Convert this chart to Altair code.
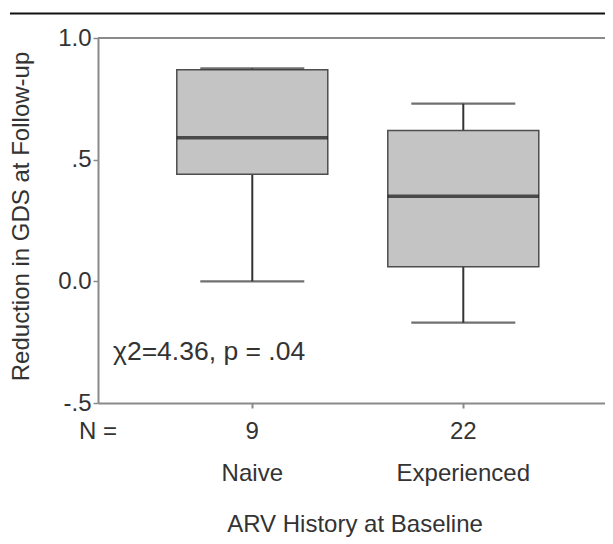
import altair as alt
import pandas as pd

groups = ["Naive", "Experienced"]
counts = [9, 22]
whisker_low = [0.0, -0.17]
box_q1 = [0.44, 0.06]
box_median = [0.59, 0.35]
box_q3 = [0.87, 0.62]
whisker_high = [0.875, 0.73]
y_ticks = [-0.5, 0.0, 0.5, 1.0]
y_tick_labels = ["-.5", "0.0", ".5", "1.0"]
stat_text = "χ2=4.36, p = .04"
n_label = "N ="
x_title = "ARV History at Baseline"
y_title = "Reduction in GDS at Follow-up"

df = pd.DataFrame({
    "group": groups,
    "n": counts,
    "low": whisker_low,
    "q1": box_q1,
    "median": box_median,
    "q3": box_q3,
    "high": whisker_high,
})

FONT = "Liberation Sans"
TXT = "#333333"
AXC = "#8a8a8a"
W, H = 507, 365

label_expr = " : ".join(
    f"datum.value == {v} ? '{t}'" for v, t in zip(y_ticks, y_tick_labels)
) + " : ''"

x_scale = alt.Scale(domain=groups, paddingInner=0, paddingOuter=0.2014, align=0.574)
y_scale = alt.Scale(domain=[-0.5, 1.0], nice=False, zero=False)

x_axis = alt.Axis(title=None, labels=False, ticks=True, tickSize=5, tickWidth=2,
                  tickColor=AXC, domainColor=AXC, domainWidth=2, grid=False)
y_axis = alt.Axis(values=y_ticks, labelExpr=label_expr, title=y_title, grid=False,
                  tickSize=5, tickWidth=1.5, tickColor=AXC, domainColor=AXC, domainWidth=2,
                  labelFont=FONT, labelFontSize=24, labelColor=TXT, labelPadding=2,
                  titleFont=FONT, titleFontSize=24, titleFontWeight="normal", titleColor=TXT,
                  titleX=-65, titleY=178, titleAngle=270, titleBaseline="bottom", titleAlign="center")

X = alt.X("group:N", scale=x_scale, axis=x_axis, sort=groups)

def Y(field):
    return alt.Y(f"{field}:Q", scale=y_scale, axis=y_axis)

base = alt.Chart(df)

whisk_lo = base.mark_rule(color="#333333", strokeWidth=2).encode(x=X, y=Y("low"), y2="q1:Q")
whisk_hi = base.mark_rule(color="#333333", strokeWidth=2).encode(x=X, y=Y("q3"), y2="high:Q")
box = base.mark_bar(size=151, fill="#c4c4c4", stroke="#4d4d4d", strokeWidth=1.5).encode(
    x=X, y=Y("q1"), y2="q3:Q")
med = base.mark_tick(size=151, thickness=3.5, color="#151515").encode(x=X, y=Y("median"))
cap_lo = base.mark_tick(size=104, thickness=2.2, color="#333333").encode(x=X, y=Y("low"))
cap_hi = base.mark_tick(size=104, thickness=2.2, color="#333333").encode(x=X, y=Y("high"))

top_border = alt.Chart(pd.DataFrame({"v": [1.0]})).mark_rule(color=AXC, strokeWidth=2).encode(
    y=Y("v"), x=alt.value(0), x2=alt.value(W))
top_line = alt.Chart(pd.DataFrame({"v": [0]})).mark_rule(color="#111111", strokeWidth=2.2).encode(
    x=alt.value(-88), x2=alt.value(W), y=alt.value(-24.5))

count_txt = base.mark_text(font=FONT, fontSize=24, color=TXT, baseline="middle").encode(
    x=X, y=alt.value(394), text="n:N")
name_txt = base.mark_text(font=FONT, fontSize=24, color=TXT, baseline="middle").encode(
    x=X, y=alt.value(436), text="group:N")
n_txt = alt.Chart(pd.DataFrame({"t": [n_label]})).mark_text(
    font=FONT, fontSize=24, color=TXT, align="left", baseline="middle").encode(
    x=alt.value(-19), y=alt.value(394), text="t:N")
xt_txt = alt.Chart(pd.DataFrame({"t": [x_title]})).mark_text(
    font=FONT, fontSize=24, color=TXT, align="center", baseline="middle").encode(
    x=alt.value(257), y=alt.value(487), text="t:N")
stat_txt = alt.Chart(pd.DataFrame({"t": [stat_text]})).mark_text(
    font=FONT, fontSize=26.5, color=TXT, align="left", baseline="middle").encode(
    x=alt.value(15), y=alt.value(314), text="t:N")

chart = alt.layer(
    top_line, top_border, whisk_lo, whisk_hi, box, med, cap_lo, cap_hi,
    count_txt, name_txt, n_txt, xt_txt, stat_txt,
).properties(
    width=W, height=H,
    autosize=alt.AutoSizeParams(type="none"),
    padding={"left": 90, "top": 30, "right": 0, "bottom": 134},
).configure_view(stroke=None).configure(background="white")

chart.save("out.html", embed_options={"renderer": "svg", "actions": False})
